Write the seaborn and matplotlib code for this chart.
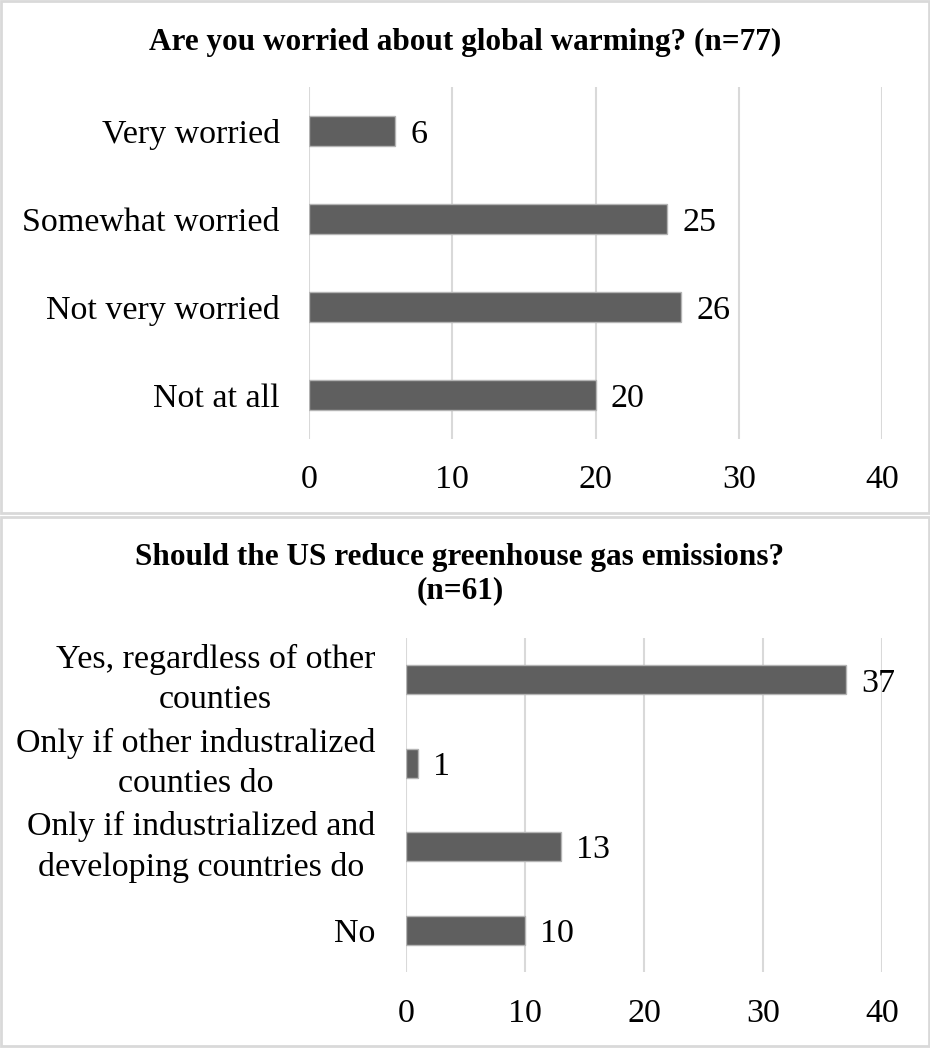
import matplotlib
matplotlib.use("Agg")
import matplotlib.pyplot as plt
from matplotlib.patches import Rectangle
import seaborn as sns
import pandas as pd

# Survey results
worry_categories = ["Very worried", "Somewhat worried", "Not very worried", "Not at all"]
worry_counts = [6, 25, 26, 20]
worry_title = "Are you worried about global warming? (n=77)"

reduce_categories = [
    "Yes, regardless of other\ncounties",
    "Only if other industralized\ncounties do",
    "Only if industrialized and\ndeveloping countries do",
    "No",
]
reduce_counts = [37, 1, 13, 10]
reduce_title = "Should the US reduce greenhouse gas emissions?\n(n=61)"

x_ticks = [0, 10, 20, 30, 40]

sns.set_theme(style="white")
plt.rcParams["font.family"] = ["Liberation Serif", "DejaVu Serif"]

W, H = 930, 1048
fig = plt.figure(figsize=(W / 100, H / 100), dpi=100)
fig.patch.set_facecolor("white")

BAR = "#5f5f5f"
EDGE = "#b4b4b4"
GRID = "#d9d9d9"
FS = 24.5
TITLE_FS = 22.5


def px_axes(left, top, right, bottom):
    return fig.add_axes([left / W, 1 - bottom / H, (right - left) / W, (bottom - top) / H])


def draw_panel(ax, cats, vals, label_pad, tick_pad):
    df = pd.DataFrame({"category": cats, "count": vals})
    sns.barplot(data=df, y="category", x="count", orient="h", color=BAR,
                width=0.35, edgecolor=EDGE, linewidth=1.0, saturation=1, ax=ax)
    ax.set_xlim(0, 40)
    ax.set_xticks(x_ticks)
    ax.set_xlabel("")
    ax.set_ylabel("")
    ax.grid(axis="x", color=GRID, linewidth=1.5)
    ax.grid(axis="y", visible=False)
    ax.set_axisbelow(True)
    for s in ax.spines.values():
        s.set_visible(False)
    ax.tick_params(axis="both", length=0, labelsize=FS, colors="black")
    ax.tick_params(axis="y", pad=label_pad)
    ax.tick_params(axis="x", pad=tick_pad)
    for t in ax.get_yticklabels():
        t.set_multialignment("center")
        t.set_linespacing(1.42)
        if "\n" in t.get_text():
            t.set_verticalalignment("center")
    labels = ax.bar_label(ax.containers[0], padding=11, fontsize=FS, color="black")
    for t in labels:
        t.set_verticalalignment("center_baseline")


# Panel frames
fig.patches.append(Rectangle((1 / W, 1 - 513 / H), 928 / W, 512 / H, transform=fig.transFigure,
                             fill=False, edgecolor=GRID, linewidth=2))
fig.patches.append(Rectangle((1 / W, 1 - 1046 / H), 928 / W, 529 / H, transform=fig.transFigure,
                             fill=False, edgecolor=GRID, linewidth=2))

ax1 = px_axes(309, 87, 882, 439)
draw_panel(ax1, worry_categories, worry_counts, label_pad=21, tick_pad=18)
fig.text(465 / W, 1 - 50 / H, worry_title, ha="center", va="baseline",
         fontsize=TITLE_FS, fontweight="bold", color="black")

ax2 = px_axes(406, 638, 882, 972)
draw_panel(ax2, reduce_categories, reduce_counts, label_pad=22, tick_pad=19)
fig.text(460 / W, 1 - 543 / H, reduce_title, ha="center", va="top",
         fontsize=TITLE_FS, fontweight="bold", color="black", linespacing=1.2)

fig.savefig("out.png", dpi=100, facecolor="white")
